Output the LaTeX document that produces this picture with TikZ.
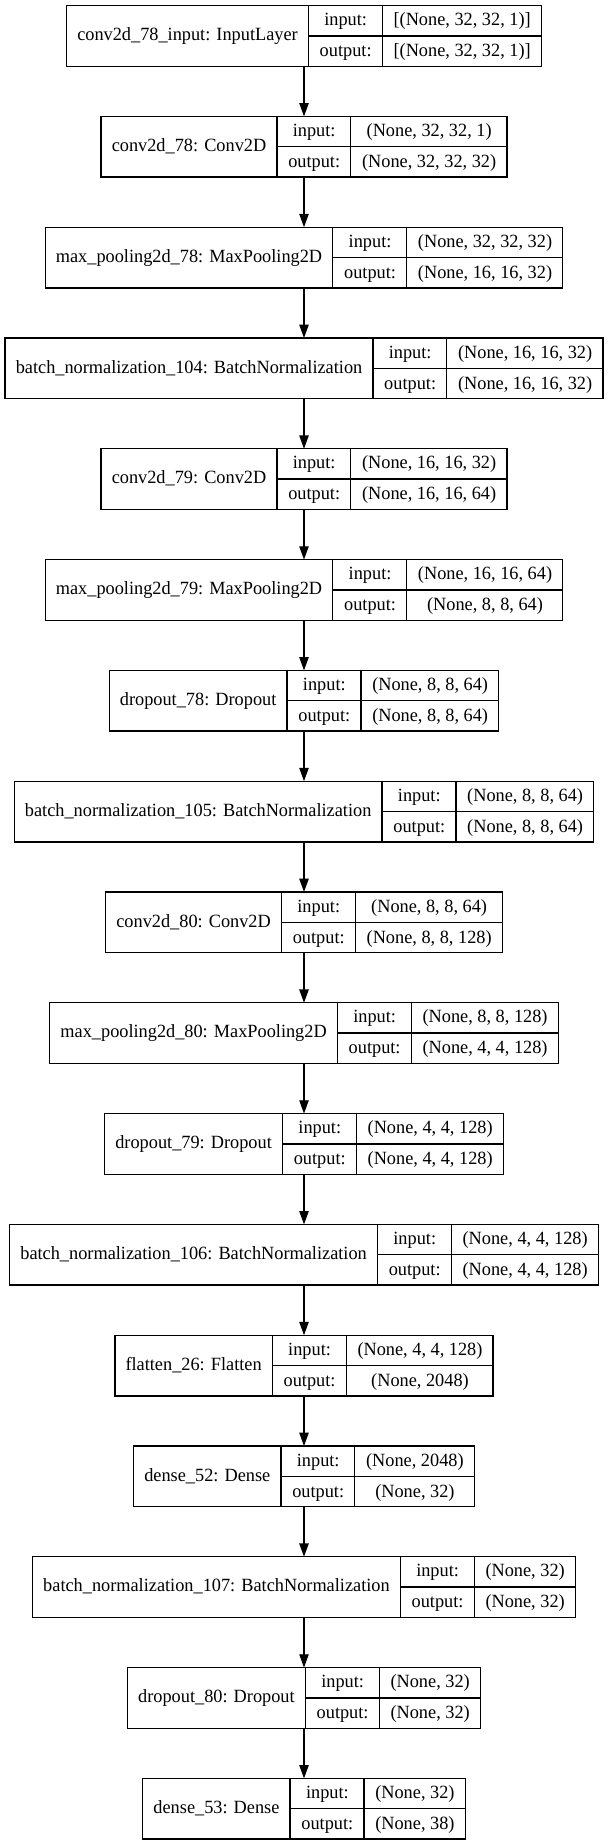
\documentclass[tikz,border=0pt]{standalone}
\usepackage{fontspec}
\setmainfont[FakeStretch=0.98]{Liberation Serif}
\usetikzlibrary{positioning,arrows.meta}
\setlength{\arrayrulewidth}{1pt}
\newcommand{\rowstrut}{\rule[-7.2pt]{0pt}{22.25pt}}
\newcommand{\record}[3]{%
  \begin{tabular}{@{\hspace{8pt}}c@{\hspace{8pt}}|@{}c@{}}
    #1 &
    \begin{tabular}{@{\hspace{8pt}}c@{\hspace{8pt}}|@{\hspace{8pt}}c@{\hspace{8pt}}}
      \rowstrut input: & #2 \\ \hline
      \rowstrut output: & #3
    \end{tabular}
  \end{tabular}}
\tikzset{
    layer/.style = {draw, line width=1pt, inner sep=0pt, outer sep=0pt, font=\fontsize{14pt}{16.8pt}\selectfont},
    flow/.style = {-{Triangle[length=10pt,width=7pt]}, line width=1pt},
}
\begin{document}
\begin{tikzpicture}[node distance=37.6pt]
\useasboundingbox (0,0) rectangle (456pt,-1383pt);
\node[layer, anchor=north] (l1) at (228pt,-4.2pt) {\record{conv2d\_78\_input: InputLayer}{[(None, 32, 32, 1)]}{[(None, 32, 32, 1)]}};
\node[layer, below=of l1] (l2) {\record{conv2d\_78: Conv2D}{(None, 32, 32, 1)}{(None, 32, 32, 32)}};
\node[layer, below=of l2] (l3) {\record{max\_pooling2d\_78: MaxPooling2D}{(None, 32, 32, 32)}{(None, 16, 16, 32)}};
\node[layer, below=of l3] (l4) {\record{batch\_normalization\_104: BatchNormalization}{(None, 16, 16, 32)}{(None, 16, 16, 32)}};
\node[layer, below=of l4] (l5) {\record{conv2d\_79: Conv2D}{(None, 16, 16, 32)}{(None, 16, 16, 64)}};
\node[layer, below=of l5] (l6) {\record{max\_pooling2d\_79: MaxPooling2D}{(None, 16, 16, 64)}{(None, 8, 8, 64)}};
\node[layer, below=of l6] (l7) {\record{dropout\_78: Dropout}{(None, 8, 8, 64)}{(None, 8, 8, 64)}};
\node[layer, below=of l7] (l8) {\record{batch\_normalization\_105: BatchNormalization}{(None, 8, 8, 64)}{(None, 8, 8, 64)}};
\node[layer, below=of l8] (l9) {\record{conv2d\_80: Conv2D}{(None, 8, 8, 64)}{(None, 8, 8, 128)}};
\node[layer, below=of l9] (l10) {\record{max\_pooling2d\_80: MaxPooling2D}{(None, 8, 8, 128)}{(None, 4, 4, 128)}};
\node[layer, below=of l10] (l11) {\record{dropout\_79: Dropout}{(None, 4, 4, 128)}{(None, 4, 4, 128)}};
\node[layer, below=of l11] (l12) {\record{batch\_normalization\_106: BatchNormalization}{(None, 4, 4, 128)}{(None, 4, 4, 128)}};
\node[layer, below=of l12] (l13) {\record{flatten\_26: Flatten}{(None, 4, 4, 128)}{(None, 2048)}};
\node[layer, below=of l13] (l14) {\record{dense\_52: Dense}{(None, 2048)}{(None, 32)}};
\node[layer, below=of l14] (l15) {\record{batch\_normalization\_107: BatchNormalization}{(None, 32)}{(None, 32)}};
\node[layer, below=of l15] (l16) {\record{dropout\_80: Dropout}{(None, 32)}{(None, 32)}};
\node[layer, below=of l16] (l17) {\record{dense\_53: Dense}{(None, 32)}{(None, 38)}};
% edges
\foreach \i [remember=\i as \j (initially 1)] in {2,...,17}
  \draw[flow] (l\j) -- (l\i);
\end{tikzpicture}
\end{document}
